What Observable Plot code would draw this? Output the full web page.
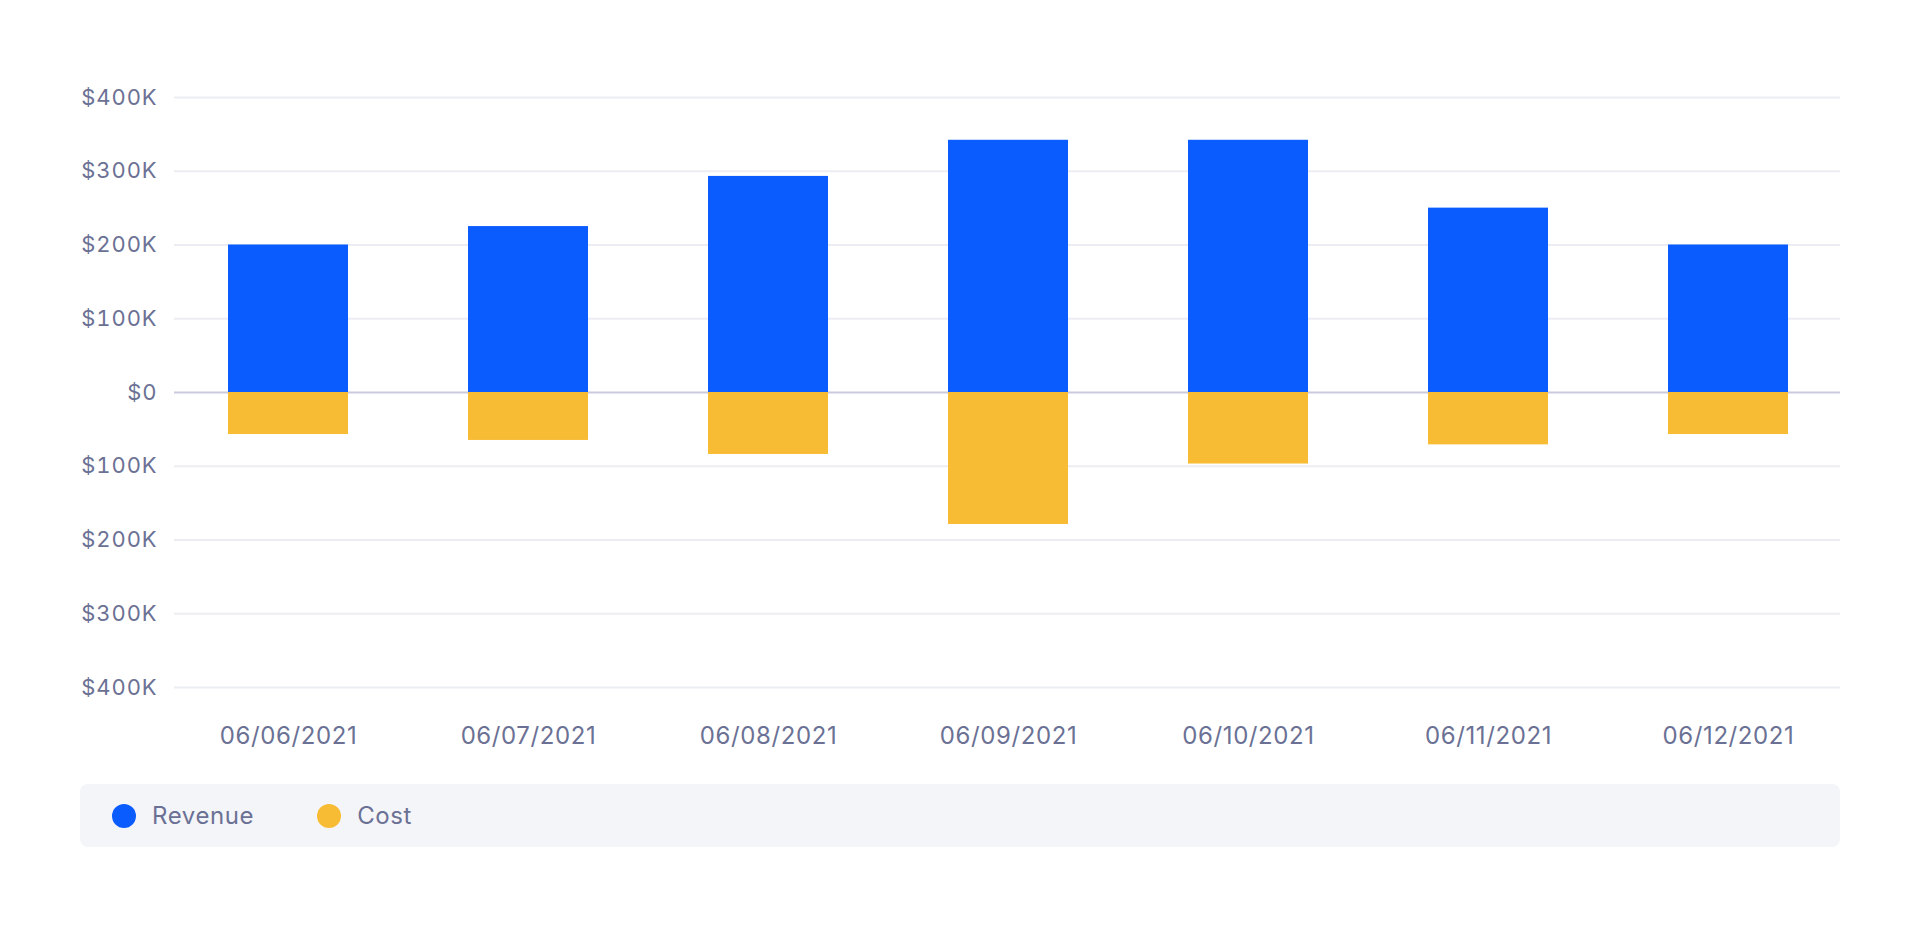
<!DOCTYPE html>
<html>
<head>
<meta charset="utf-8">
<script src="https://cdn.jsdelivr.net/npm/d3@7"></script>
<script src="https://cdn.jsdelivr.net/npm/@observablehq/plot@0.6"></script>
<style>
  html, body { margin: 0; padding: 0; background: #fff; }
  body { font-family: Inter, "Noto Sans", sans-serif; width: 1920px; }
  #chart svg { display: block; }
  .legend {
    position: absolute; left: 80px; top: 784px; width: 1760px; height: 63px;
    background: #F4F5F9; border-radius: 8px; display: flex; align-items: center;
    font-family: Inter, sans-serif; font-size: 24px; color: #6B7194; letter-spacing: 0.6px;
  }
  .item { display: flex; align-items: center; }
  .dot { width: 24px; height: 24px; border-radius: 50%; display: inline-block; }
</style>
</head>
<body>
<div id="chart"></div>
<div class="legend" id="legend"></div>
<script>
const dates = ["06/06/2021", "06/07/2021", "06/08/2021", "06/09/2021", "06/10/2021", "06/11/2021", "06/12/2021"];
const revenue = [200000, 225000, 293000, 342000, 342000, 250000, 200000];
const cost = [57000, 65000, 84000, 179000, 97000, 71000, 57000];
const yTicks = [-400000, -300000, -200000, -100000, 0, 100000, 200000, 300000, 400000];
const seriesNames = ["Revenue", "Cost"];
const seriesColors = ["#0B5CFF", "#F8BC34"];

const revData = dates.map((d, i) => ({date: d, value: revenue[i]}));
const costData = dates.map((d, i) => ({date: d, value: -cost[i]}));
const fmt = v => v === 0 ? "$0" : "$" + Math.abs(v) / 1000 + "K";

const chart = Plot.plot({
  width: 1920,
  height: 760,
  marginLeft: 168,
  marginRight: 72,
  marginTop: 97,
  marginBottom: 73,
  style: {fontFamily: "Inter, sans-serif", fontSize: "22px", color: "#6B7194", background: "transparent", letterSpacing: "0.9px"},
  x: {domain: dates, paddingInner: 0.5, paddingOuter: 0.25, label: null},
  y: {domain: [-400000, 400000], label: null},
  marks: [
    Plot.ruleY(yTicks.filter(t => t !== 0), {stroke: "#ECEDF3", strokeWidth: 2, insetLeft: 6, insetRight: 8}),
    Plot.ruleY([0], {stroke: "#C9CBDD", strokeWidth: 2, insetLeft: 6, insetRight: 8}),
    Plot.barY(revData, {x: "date", y: "value", fill: seriesColors[0]}),
    Plot.barY(costData, {x: "date", y: "value", fill: seriesColors[1]}),
    Plot.axisY(yTicks, {tickSize: 0, tickPadding: 11, tickFormat: fmt, fill: "#6B7194"}),
    Plot.axisX(dates, {tickSize: 0, tickPadding: 39, fill: "#6B7194", fontSize: 24})
  ]
});
document.getElementById("chart").appendChild(chart);
chart.querySelectorAll("g[aria-label='x-axis tick label'] text").forEach(t => t.style.letterSpacing = "0.6px");

const legend = document.getElementById("legend");
const dotMargins = [32, 63];
seriesNames.forEach((name, i) => {
  const item = document.createElement("div");
  item.className = "item";
  item.style.marginLeft = dotMargins[i] + "px";
  const dot = document.createElement("span");
  dot.className = "dot";
  dot.style.background = seriesColors[i];
  const label = document.createElement("span");
  label.textContent = name;
  label.style.marginLeft = "16px";
  item.appendChild(dot);
  item.appendChild(label);
  legend.appendChild(item);
});
</script>
</body>
</html>
